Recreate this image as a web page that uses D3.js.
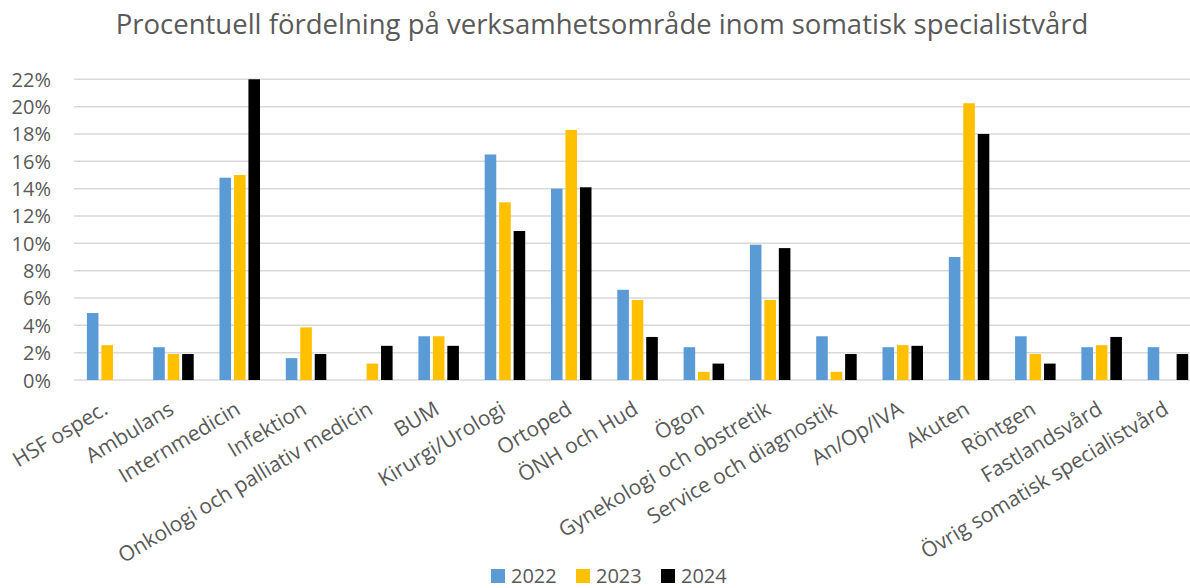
<!DOCTYPE html>
<html>
<head>
<meta charset="utf-8">
<script src="https://cdn.jsdelivr.net/npm/d3@7"></script>
<style>
  html, body { margin: 0; padding: 0; background: #fff; }
  svg { display: block; }
  text { font-family: "Open Sans", "Noto Sans", sans-serif; fill: #595959; }
</style>
</head>
<body>
<svg id="chart" width="1190" height="588"></svg>
<script>
const title = "Procentuell fördelning på verksamhetsområde inom somatisk specialistvård";
const categories = ["HSF ospec.", "Ambulans", "Internmedicin", "Infektion", "Onkologi och palliativ medicin", "BUM", "Kirurgi/Urologi", "Ortoped", "ÖNH och Hud", "Ögon", "Gynekologi och obstretik", "Service och diagnostik", "An/Op/IVA", "Akuten", "Röntgen", "Fastlandsvård", "Övrig somatisk specialistvård"];
const seriesNames = ["2022", "2023", "2024"];
const values2022 = [4.9, 2.4, 14.8, 1.6, null, 3.2, 16.5, 14.0, 6.6, 2.4, 9.9, 3.2, 2.4, 9.0, 3.2, 2.4, 2.4];
const values2023 = [2.55, 1.9, 15.0, 3.85, 1.2, 3.2, 13.0, 18.3, 5.85, 0.6, 5.85, 0.6, 2.55, 20.25, 1.9, 2.55, null];
const values2024 = [null, 1.9, 22.0, 1.9, 2.5, 2.5, 10.9, 14.1, 3.15, 1.2, 9.65, 1.9, 2.5, 18.0, 1.2, 3.15, 1.9];
const yTicks = [0, 2, 4, 6, 8, 10, 12, 14, 16, 18, 20, 22];
const colors = ["#5B9BD5", "#FFC000", "#000000"];

const seriesValues = [values2022, values2023, values2024];
const rows = categories.map((c, i) => ({
  cat: c,
  vals: seriesNames.map((s, k) => ({ key: s, value: seriesValues[k][i], color: colors[k] }))
}));

const svg = d3.select("#chart");
const plotLeft = 74, step = 66.3;
const x0 = d3.scaleBand().domain(categories)
  .range([plotLeft, plotLeft + step * categories.length])
  .paddingInner(0.389).paddingOuter(0.1945);
const x1 = d3.scaleBand().domain(seriesNames).range([0, x0.bandwidth()]).paddingInner(0.2).paddingOuter(0);
const y = d3.scaleLinear().domain([0, 22]).range([380, 79.3]);

// Title
svg.append("text").attr("x", 602).attr("y", 34).attr("text-anchor", "middle")
  .style("font-size", "27.5px").text(title);

// Gridlines and y axis
const yAxis = d3.axisLeft(y).tickValues(yTicks).tickFormat(d => d + "%").tickSize(0).tickPadding(0);
const gy = svg.append("g").attr("transform", `translate(${plotLeft},0)`).call(yAxis);
gy.select(".domain").remove();
gy.selectAll("text").attr("x", 51 - plotLeft).attr("dy", "0.35em")
  .style("font-size", "20px").style("fill", "#595959").attr("text-anchor", "end")
  .style("font-family", "'Open Sans', sans-serif");
svg.append("g").selectAll("line").data(yTicks).join("line")
  .attr("x1", plotLeft).attr("x2", 1190)
  .attr("y1", d => y(d)).attr("y2", d => y(d))
  .attr("stroke", "#d9d9d9").attr("stroke-width", 1.5);

// Bars
const groups = svg.append("g").selectAll("g").data(rows).join("g")
  .attr("transform", d => `translate(${x0(d.cat)},0)`);
groups.selectAll("rect").data(d => d.vals.filter(v => v.value != null)).join("rect")
  .attr("x", d => x1(d.key)).attr("width", x1.bandwidth())
  .attr("y", d => y(d.value)).attr("height", d => y(0) - y(d.value))
  .attr("fill", d => d.color);

// X axis labels
const xAxis = d3.axisBottom(x0).tickSize(0).tickPadding(0);
const gx = svg.append("g").attr("transform", "translate(0,380)").call(xAxis);
gx.select(".domain").remove();
gx.selectAll(".tick text")
  .attr("text-anchor", "end").attr("y", 0).attr("dy", 0)
  .attr("transform", "translate(2,33) rotate(-31)")
  .style("font-size", "21px").style("fill", "#595959")
  .style("font-family", "'Open Sans', sans-serif");

// Legend
const legend = svg.append("g");
const legX = [491, 576, 661];
seriesNames.forEach((s, k) => {
  legend.append("rect").attr("x", legX[k]).attr("y", 569).attr("width", 14).attr("height", 14).attr("fill", colors[k]);
  legend.append("text").attr("x", legX[k] + 20).attr("y", 583).style("font-size", "20px").text(s);
});
</script>
</body>
</html>
